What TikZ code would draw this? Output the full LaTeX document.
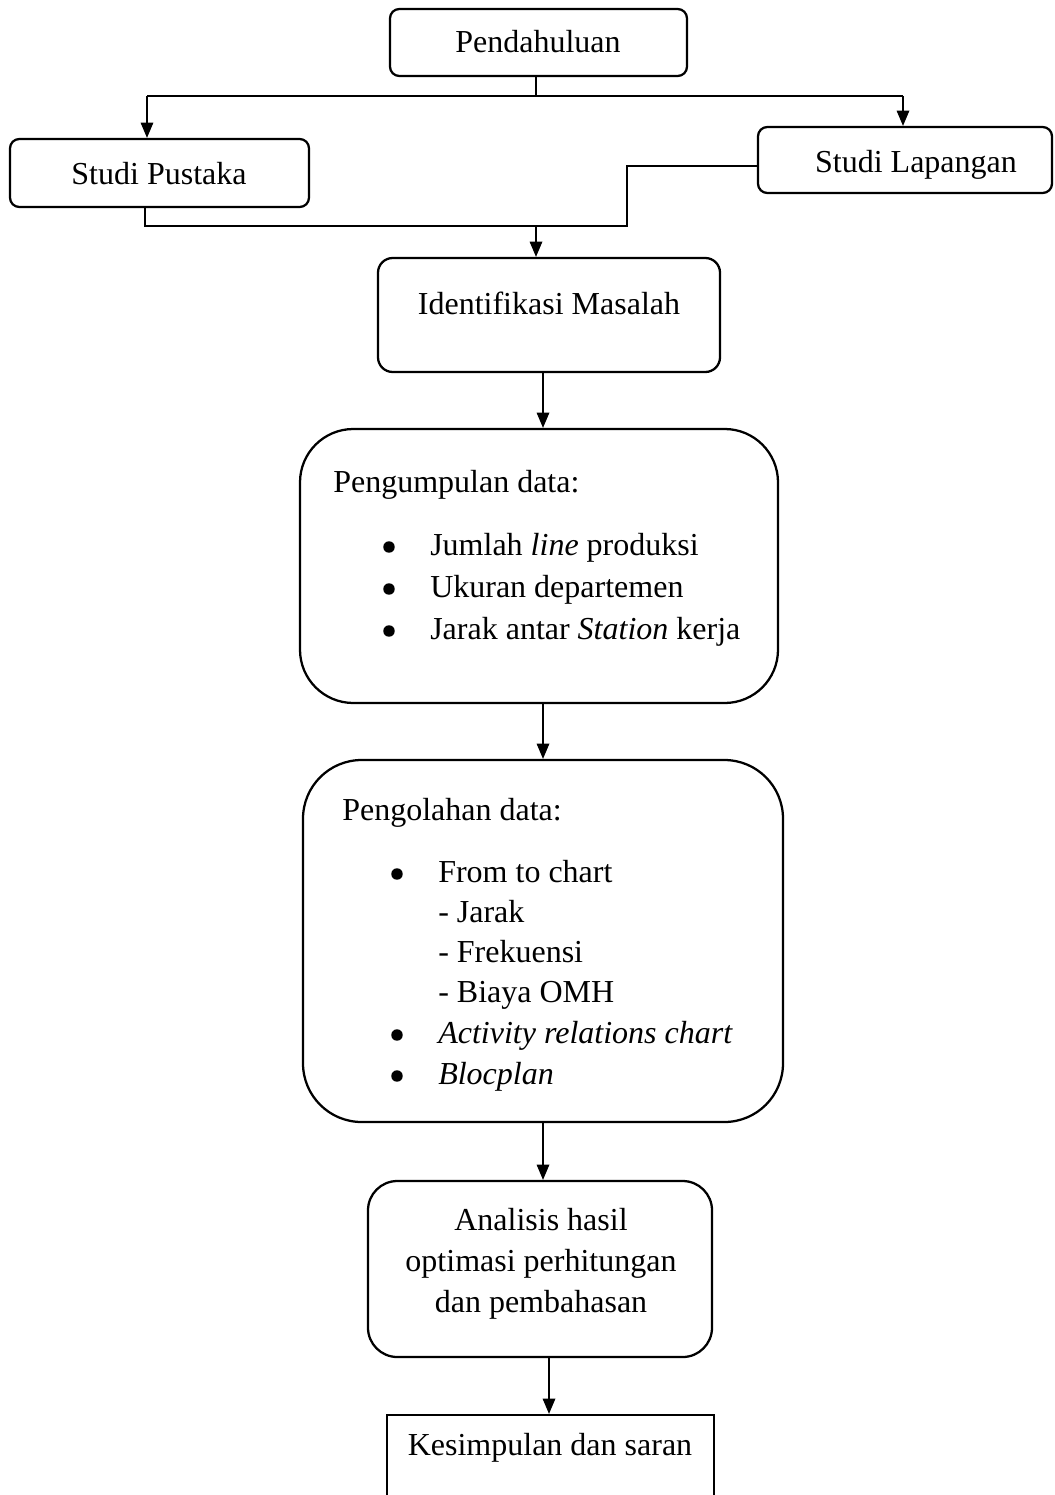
\documentclass[tikz,border=0pt]{standalone}
\usepackage{fontspec}
\setmainfont{Liberation Serif}
\usetikzlibrary{arrows.meta,fit,calc}
\newcommand{\fs}{\fontsize{24}{30}\selectfont}
\tikzset{
  box/.style={draw, line width=1.7pt, inner sep=0pt},
  line/.style={draw, line width=0.9pt},
  arr/.style={line, -{Triangle[length=11.5pt,width=9.5pt]}},
  txt/.style={inner sep=0pt, anchor=base west, font=\fs},
  ctxt/.style={inner sep=0pt, anchor=base, font=\fs},
  bul/.style={circle, fill=black, inner sep=0pt, minimum size=8.6pt},
}
\begin{document}
\begin{tikzpicture}[x=0.75pt,y=-0.75pt]
\useasboundingbox (0,0) rectangle (1054,1495);
% boxes
\node[box, rounded corners=7pt, fit={(390,9) (687,76)}] (pend) {};
\node[box, rounded corners=7pt, fit={(10,139) (309,207)}] (pust) {};
\node[box, rounded corners=7pt, fit={(758,127) (1052,193)}] (lap) {};
\node[box, rounded corners=11pt, fit={(378,258) (720,372)}] (iden) {};
\node[box, rounded corners=40pt, fit={(300,429) (778,703)}] (kum) {};
\node[box, rounded corners=44pt, fit={(303,760) (783,1122)}] (olah) {};
\node[box, rounded corners=22pt, fit={(368,1181) (712,1357)}] (anal) {};
\node[box, fit={(387,1415) (714,1510)}] (kes) {};
% texts
\node[ctxt] (tpend) at (538,53) {Pendahuluan};
\node[ctxt] (tpust) at (159,184) {Studi Pustaka};
\node[ctxt] (tlap) at (916,172) {Studi Lapangan};
\node[ctxt] (tiden) at (549,314) {Identifikasi Masalah};
\node[txt] (tkum) at (333,492) {Pengumpulan data:};
\node[bul] (bk1) at (389,547) {};
\node[bul] (bk2) at (389,589) {};
\node[bul] (bk3) at (389,631) {};
\node[txt] (k1) at (430,555) {Jumlah \textit{line} produksi};
\node[txt] (k2) at (430,597) {Ukuran departemen};
\node[txt] (k3) at (430,639) {Jarak antar \textit{Station} kerja};
\node[txt] (tolah) at (342,820) {Pengolahan data:};
\node[bul] (bo1) at (397,874) {};
\node[bul] (bo2) at (397,1035) {};
\node[bul] (bo3) at (397,1076) {};
\node[txt] (o1) at (438,882) {From to chart};
\node[txt] (o2) at (438,922) {- Jarak};
\node[txt] (o3) at (438,962) {- Frekuensi};
\node[txt] (o4) at (438,1002) {- Biaya OMH};
\node[txt] (o5) at (438,1043) {\textit{Activity relations chart}};
\node[txt] (o6) at (438,1084) {\textit{Blocplan}};
\node[ctxt] (a1t) at (541,1230) {Analisis hasil};
\node[ctxt] (a2t) at (541,1271) {optimasi perhitungan};
\node[ctxt] (a3t) at (541,1312) {dan pembahasan};
\node[ctxt] (tkes) at (550,1455) {Kesimpulan dan saran};
% connectors
\coordinate (j1) at (536,96);
\coordinate (jl) at (147,96);
\coordinate (jr) at (903,96);
\draw[line] (pend.south -| j1) -- (j1);
\draw[line] (jl) -- (jr);
\draw[arr] (jl) -- (jl |- pust.north);
\draw[arr] (jr) -- (jr |- lap.north);
\coordinate (m1) at (145,226);
\coordinate (m2) at (627,226);
\coordinate (m3) at (536,226);
\coordinate (m4) at (627,166);
\draw[line] (pust.south -| m1) -- (m1) -- (m2) -- (m4) -- (lap.west |- m4);
\draw[arr] (m3) -- (m3 |- iden.north);
\coordinate (x1) at (543,0);
\coordinate (x2) at (549,0);
\draw[arr] (iden.south -| x1) -- (kum.north -| x1);
\draw[arr] (kum.south -| x1) -- (olah.north -| x1);
\draw[arr] (olah.south -| x1) -- (anal.north -| x1);
\draw[arr] (anal.south -| x2) -- (kes.north -| x2);
\end{tikzpicture}
\end{document}
